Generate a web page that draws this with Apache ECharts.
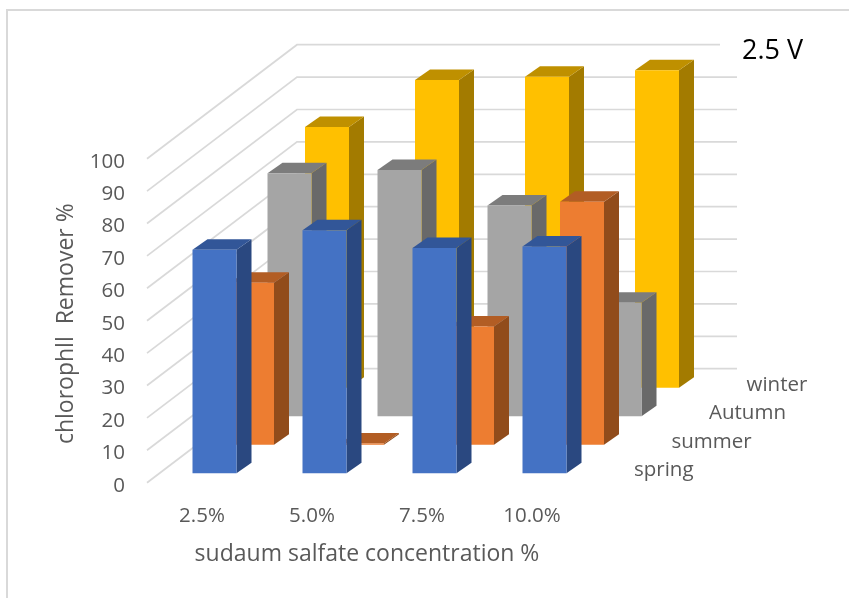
<!DOCTYPE html>
<html>
<head>
<meta charset="utf-8">
<style>html,body{margin:0;padding:0;background:#fff}#c{width:849px;height:598px}</style>
<script src="https://cdn.jsdelivr.net/npm/echarts@6/dist/echarts.min.js"></script>
</head>
<body>
<div id="c"></div>
<script>
// Chlorophyll removal by sodium sulfate concentration and season, 2.5 V
const concentrations = ['2.5%', '5.0%', '7.5%', '10.0%'];
const seasons = ['spring', 'summer', 'Autumn', 'winter'];
const spring = [69, 75, 69.5, 70];
const summer = [50, 0.4, 36.5, 75];
const autumn = [75, 76, 65, 35];
const winter = [80.5, 95, 96, 98];
const yTicks = [0, 10, 20, 30, 40, 50, 60, 70, 80, 90, 100];

// Oblique projection: one depth slot moves a mark right and up on the page
const SLOT = [37.5, -28.5];
const FIRST = [12.5, -9.5];
const BAR_DEPTH = [15, -10.5];
const BAR_WIDTH_RATIO = 0.4;
const FONT = '"Open Sans", sans-serif';

const slotOffset = i => [FIRST[0] + SLOT[0] * i, FIRST[1] + SLOT[1] * i];

const palette = [
  { face: '#4472C4', side: '#2A4880', top: '#325698' },
  { face: '#ED7D31', side: '#914C1B', top: '#B25D24' },
  { face: '#A5A5A5', side: '#696969', top: '#7C7C7C' },
  { face: '#FFC000', side: '#A37B00', top: '#BF9000' }
];

function poly(points, fill) {
  return { type: 'polygon', shape: { points }, style: { fill, stroke: null } };
}

function barSeries(name, values, slot) {
  const c = palette[slot];
  return {
    type: 'custom',
    name,
    z: 10 - slot,
    clip: false,
    silent: true,
    data: values.map((v, i) => [i, v]),
    renderItem(params, api) {
      const off = slotOffset(slot);
      const cat = api.value(0);
      const top = api.coord([cat, api.value(1)]);
      const base = api.coord([cat, 0]);
      const w = api.size([1, 0])[0] * BAR_WIDTH_RATIO;
      const l = top[0] - w / 2 + off[0];
      const r = l + w;
      const yt = top[1] + off[1];
      const yb = base[1] + off[1];
      const dx = BAR_DEPTH[0], dy = BAR_DEPTH[1];
      return {
        type: 'group',
        children: [
          poly([[r, yt], [r + dx, yt + dy], [r + dx, yb + dy], [r, yb]], c.side),
          poly([[l, yt], [l + dx, yt + dy], [r + dx, yt + dy], [r, yt]], c.top),
          poly([[l, yt], [r, yt], [r, yb], [l, yb]], c.face)
        ]
      };
    }
  };
}

// Floor-side and back-wall grid lines for each value tick
const wallSeries = {
  type: 'custom',
  z: 1,
  clip: false,
  silent: true,
  data: yTicks.map(v => [v]),
  renderItem(params, api) {
    const v = api.value(0);
    const n = concentrations.length;
    const half = api.size([1, 0])[0] / 2;
    const front = api.coord([0, v]);
    const x0 = front[0] - half;
    const depthX = SLOT[0] * 4, depthY = SLOT[1] * 4;
    const xb = x0 + depthX, yb = front[1] + depthY;
    const xEnd = v === 100 ? 720 : xb + half * 2 * n;
    return {
      type: 'polyline',
      shape: { points: [[x0, front[1]], [xb, yb], [xEnd, yb]] },
      style: { stroke: '#D9D9D9', lineWidth: 1.7, fill: null }
    };
  }
};

// Season names run along the right end of the depth axis
const depthLabels = {
  type: 'custom',
  z: 20,
  clip: false,
  silent: true,
  data: seasons.map((s, i) => [i]),
  renderItem(params, api) {
    const i = api.value(0);
    const end = api.coord([concentrations.length - 1, 0]);
    const half = api.size([1, 0])[0] / 2;
    const off = slotOffset(i);
    return {
      type: 'text',
      style: {
        x: end[0] + half + off[0] + 34.5,
        y: end[1] + off[1] - 3,
        text: seasons[i],
        fill: '#595959',
        font: '20.5px ' + FONT,
        textAlign: 'left',
        textVerticalAlign: 'middle'
      }
    };
  }
};

const option = {
  animation: false,
  backgroundColor: '#fff',
  textStyle: { fontFamily: FONT },
  title: {
    text: '2.5 V',
    left: 737,
    top: 33,
    textStyle: { color: '#000', fontSize: 27, fontWeight: 'normal', fontFamily: FONT }
  },
  graphic: [
    { type: 'polyline', silent: true, shape: { points: [[7, 598], [7, 10], [849, 10]] },
      style: { stroke: '#D9D9D9', lineWidth: 2, fill: null } }
  ],
  grid: { left: 147, width: 440, top: 158.7, height: 324, containLabel: false },
  xAxis: {
    type: 'category',
    data: concentrations,
    axisLine: { show: false },
    axisTick: { show: false },
    axisLabel: { color: '#595959', fontSize: 20.5, margin: 23, fontFamily: FONT },
    name: 'sudaum salfate concentration %',
    nameLocation: 'middle',
    nameGap: 60,
    nameTextStyle: { color: '#595959', fontSize: 23, fontFamily: FONT }
  },
  yAxis: {
    type: 'value',
    min: 0,
    max: 100,
    interval: 10,
    splitLine: { show: false },
    axisLine: { show: false },
    axisTick: { show: false },
    axisLabel: { color: '#595959', fontSize: 20.5, margin: 22, verticalAlign: 'top', lineHeight: 6, fontFamily: FONT },
    name: 'chlorophll  Remover %',
    nameLocation: 'middle',
    nameGap: 69,
    nameTextStyle: { color: '#595959', fontSize: 23, fontFamily: FONT, padding: [0, 6, 0, 0] }
  },
  series: [
    wallSeries,
    barSeries(seasons[3], winter, 3),
    barSeries(seasons[2], autumn, 2),
    barSeries(seasons[1], summer, 1),
    barSeries(seasons[0], spring, 0),
    depthLabels
  ]
};

echarts.init(document.getElementById('c'), null, { renderer: 'canvas' }).setOption(option);
</script>
</body>
</html>
